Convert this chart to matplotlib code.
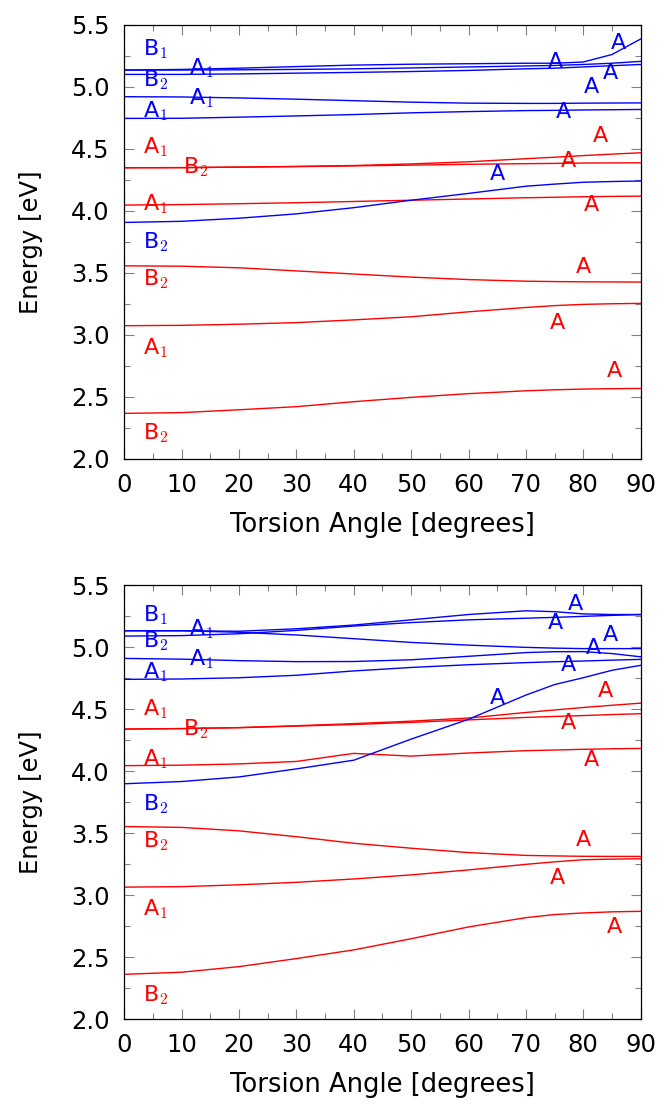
import numpy as np
import matplotlib
matplotlib.use("Agg")
import matplotlib.pyplot as plt
from matplotlib.ticker import MultipleLocator

plt.rcParams["font.family"] = ["DejaVu Sans"]
plt.rcParams["mathtext.fontset"] = "cm"

RED, BLUE = "#ff0000", "#0000ff"

# torsion angle grid (degrees)
angle = [0, 10, 20, 30, 40, 50, 60, 70, 75, 80, 85, 90]

# ---- top panel: state energies (eV) ----
top_blue = [
    [5.135, 5.14, 5.15, 5.163, 5.175, 5.182, 5.186, 5.19, 5.19, 5.20, 5.26, 5.385],
    [5.135, 5.135, 5.137, 5.14, 5.145, 5.152, 5.16, 5.168, 5.172, 5.18, 5.19, 5.205],
    [5.10, 5.10, 5.104, 5.11, 5.116, 5.123, 5.132, 5.145, 5.15, 5.16, 5.17, 5.18],
    [4.92, 4.918, 4.91, 4.90, 4.888, 4.876, 4.868, 4.866, 4.866, 4.868, 4.869, 4.87],
    [4.745, 4.746, 4.755, 4.765, 4.776, 4.79, 4.80, 4.808, 4.81, 4.813, 4.815, 4.817],
    [3.906, 3.915, 3.94, 3.975, 4.025, 4.085, 4.14, 4.198, 4.215, 4.23, 4.236, 4.24],
]
top_red = [
    [4.347, 4.348, 4.352, 4.358, 4.365, 4.378, 4.395, 4.42, 4.432, 4.445, 4.457, 4.468],
    [4.347, 4.348, 4.352, 4.356, 4.362, 4.368, 4.375, 4.38, 4.382, 4.385, 4.386, 4.387],
    [4.046, 4.05, 4.057, 4.065, 4.075, 4.085, 4.095, 4.105, 4.109, 4.113, 4.116, 4.118],
    [3.556, 3.553, 3.54, 3.515, 3.49, 3.465, 3.445, 3.432, 3.429, 3.427, 3.426, 3.425],
    [3.073, 3.076, 3.085, 3.098, 3.12, 3.145, 3.185, 3.22, 3.235, 3.245, 3.25, 3.253],
    [2.366, 2.372, 2.395, 2.42, 2.46, 2.495, 2.525, 2.548, 2.556, 2.562, 2.565, 2.567],
]

# ---- bottom panel ----
bot_blue = [
    [5.134, 5.134, 5.13, 5.15, 5.18, 5.222, 5.265, 5.295, 5.288, 5.27, 5.265, 5.265],
    [5.091, 5.095, 5.11, 5.137, 5.172, 5.20, 5.222, 5.235, 5.242, 5.25, 5.258, 5.265],
    [5.134, 5.134, 5.122, 5.10, 5.07, 5.04, 5.018, 5.0, 4.994, 4.99, 4.99, 4.99],
    [4.911, 4.905, 4.893, 4.885, 4.886, 4.90, 4.928, 4.958, 4.965, 4.966, 4.95, 4.924],
    [4.742, 4.745, 4.755, 4.775, 4.81, 4.838, 4.86, 4.877, 4.884, 4.89, 4.897, 4.903],
    [3.90, 3.918, 3.955, 4.02, 4.09, 4.26, 4.42, 4.615, 4.70, 4.755, 4.815, 4.855],
]
bot_red = [
    [4.341, 4.345, 4.353, 4.368, 4.385, 4.405, 4.43, 4.475, 4.495, 4.515, 4.533, 4.55],
    [4.341, 4.345, 4.352, 4.365, 4.378, 4.395, 4.415, 4.435, 4.443, 4.45, 4.458, 4.465],
    [4.046, 4.05, 4.06, 4.08, 4.145, 4.123, 4.148, 4.167, 4.172, 4.178, 4.182, 4.185],
    [3.555, 3.548, 3.52, 3.473, 3.42, 3.38, 3.345, 3.322, 3.318, 3.315, 3.314, 3.314],
    [3.066, 3.07, 3.085, 3.105, 3.132, 3.165, 3.205, 3.25, 3.27, 3.287, 3.292, 3.295],
    [2.363, 2.38, 2.425, 2.49, 2.56, 2.65, 2.745, 2.82, 2.845, 2.858, 2.867, 2.871],
]

# symmetry labels: (angle, energy, text)
top_blue_lab = [(5.5, 5.30, "B$_1$"), (13.5, 5.15, "A$_1$"), (5.5, 5.05, "B$_2$"),
                (13.5, 4.905, "A$_1$"), (5.5, 4.80, "A$_1$"), (5.5, 3.745, "B$_2$"),
                (86.1, 5.35, "A"), (75.1, 5.20, "A"), (84.7, 5.108, "A"),
                (81.5, 5.0, "A"), (76.5, 4.80, "A"), (65.0, 4.30, "A")]
top_red_lab = [(5.5, 4.51, "A$_1$"), (12.5, 4.355, "B$_2$"), (5.5, 4.056, "A$_1$"),
               (5.5, 3.449, "B$_2$"), (5.5, 2.89, "A$_1$"), (5.5, 2.204, "B$_2$"),
               (83.0, 4.605, "A"), (77.5, 4.40, "A"), (81.5, 4.046, "A"),
               (80.0, 3.543, "A"), (75.5, 3.094, "A"), (85.4, 2.704, "A")]
bot_blue_lab = [(5.5, 5.26, "B$_1$"), (13.5, 5.145, "A$_1$"), (5.5, 5.053, "B$_2$"),
                (13.5, 4.903, "A$_1$"), (5.5, 4.80, "A$_1$"), (5.5, 3.736, "B$_2$"),
                (78.6, 5.35, "A"), (75.1, 5.198, "A"), (84.7, 5.10, "A"),
                (81.7, 4.997, "A"), (77.5, 4.857, "A"), (65.1, 4.589, "A")]
bot_red_lab = [(5.5, 4.50, "A$_1$"), (12.5, 4.341, "B$_2$"), (5.5, 4.097, "A$_1$"),
               (5.5, 3.44, "B$_2$"), (5.5, 2.887, "A$_1$"), (5.5, 2.194, "B$_2$"),
               (83.8, 4.645, "A"), (77.5, 4.387, "A"), (81.5, 4.09, "A"),
               (80.0, 3.446, "A"), (75.5, 3.142, "A"), (85.4, 2.747, "A")]


def draw(ax, blue, red, blue_lab, red_lab):
    for y in red:
        ax.plot(angle, y, color=RED, lw=1.0)
    for y in blue:
        ax.plot(angle, y, color=BLUE, lw=1.0)
    for labs, c in [(blue_lab, BLUE), (red_lab, RED)]:
        for x, y, t in labs:
            ax.text(x, y, t, color=c, fontsize=16, ha="center", va="center")
    ax.set_xlim(0, 90)
    ax.set_ylim(2.0, 5.5)
    ax.xaxis.set_major_locator(MultipleLocator(10))
    ax.xaxis.set_minor_locator(MultipleLocator(5))
    ax.yaxis.set_major_locator(MultipleLocator(0.5))
    ax.yaxis.set_minor_locator(MultipleLocator(0.25))
    ax.yaxis.set_major_formatter(plt.FormatStrFormatter("%.1f"))
    ax.tick_params(which="both", direction="in", top=True, right=True,
                   color="#808080", labelsize=17.5)
    ax.tick_params(which="major", length=7, width=0.8)
    ax.tick_params(which="minor", length=4.5, width=0.8)
    ax.tick_params(axis="y", pad=10.5)
    ax.tick_params(axis="x", pad=10)
    for s in ax.spines.values():
        s.set_linewidth(0.9)
    ax.set_xlabel("Torsion Angle [degrees]", fontsize=18.5, labelpad=11)
    ax.set_ylabel("Energy [eV]", fontsize=17.5, labelpad=20)


fig = plt.figure(figsize=(6.67, 11.07), dpi=100)
ax1 = fig.add_axes([0.1864, 0.5856, 0.774, 0.392])
ax2 = fig.add_axes([0.1864, 0.0792, 0.774, 0.392])
draw(ax1, top_blue, top_red, top_blue_lab, top_red_lab)
draw(ax2, bot_blue, bot_red, bot_blue_lab, bot_red_lab)

fig.savefig("out.png", dpi=100)
